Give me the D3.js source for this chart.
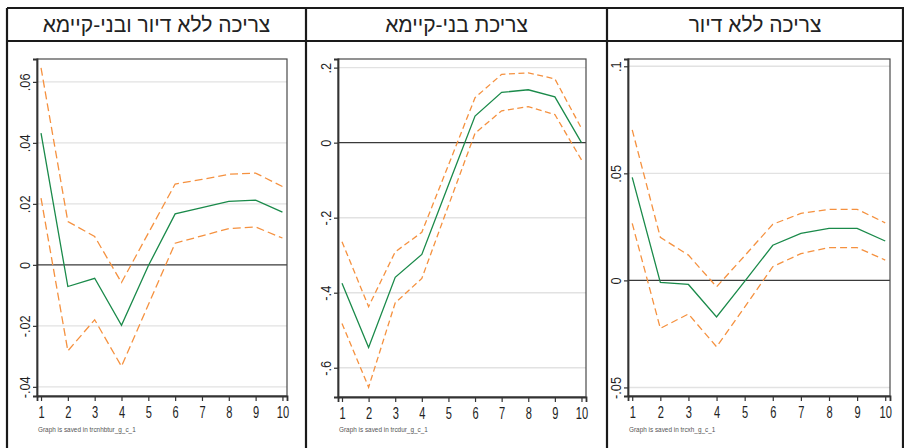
<!DOCTYPE html>
<html>
<head>
<meta charset="utf-8">
<script src="https://cdn.jsdelivr.net/npm/d3@7"></script>
<style>
  html, body { margin: 0; padding: 0; background: #fff; }
  svg { display: block; }
</style>
</head>
<body>
<svg id="chart" width="904" height="448"></svg>
<script>
// Impulse responses, horizons 1..10
const periods = [1, 2, 3, 4, 5, 6, 7, 8, 9, 10];

// Consumption excluding housing and durables
const coreIrf   = [0.0432, -0.0071, -0.0044, -0.0198, -0.0003, 0.0167, 0.0188, 0.0208, 0.0212, 0.0173];
const coreUpper = [0.0646, 0.0142, 0.0093, -0.0058, 0.0104, 0.0265, 0.0280, 0.0297, 0.0301, 0.0257];
const coreLower = [0.0219, -0.0282, -0.0180, -0.0333, -0.0131, 0.0071, 0.0095, 0.0119, 0.0124, 0.0088];
const coreTicks = [-0.04, -0.02, 0, 0.02, 0.04, 0.06];
const coreTickLabels = ["-.04", "-.02", "0", ".02", ".04", ".06"];

// Durables consumption
const durIrf   = [-0.375, -0.546, -0.359, -0.298, -0.113, 0.071, 0.134, 0.141, 0.122, 0.000];
const durUpper = [-0.264, -0.437, -0.291, -0.239, -0.060, 0.120, 0.182, 0.186, 0.170, 0.038];
const durLower = [-0.482, -0.652, -0.427, -0.362, -0.168, 0.025, 0.085, 0.096, 0.075, -0.046];
const durTicks = [-0.6, -0.4, -0.2, 0, 0.2];
const durTickLabels = ["-.6", "-.4", "-.2", "0", ".2"];

// Consumption excluding housing
const nhIrf   = [0.0481, -0.0009, -0.0019, -0.0171, -0.0005, 0.0164, 0.0220, 0.0243, 0.0243, 0.0184];
const nhUpper = [0.0703, 0.0201, 0.0118, -0.0030, 0.0115, 0.0262, 0.0313, 0.0332, 0.0332, 0.0269];
const nhLower = [0.0266, -0.0224, -0.0157, -0.0310, -0.0125, 0.0064, 0.0125, 0.0153, 0.0153, 0.0095];
const nhTicks = [-0.05, 0, 0.05, 0.1];
const nhTickLabels = ["-.05", "0", ".05", ".1"];

const titles = ["צריכה ללא דיור ובני-קיימא", "צריכת בני-קיימא", "צריכה ללא דיור"];
const notes = ["Graph is saved in trcnhbtur_g_c_1", "Graph is saved in trcdur_g_c_1", "Graph is saved in trcxh_g_c_1"];

const panels = [
  { title: titles[0], note: notes[0], irf: coreIrf, upper: coreUpper, lower: coreLower,
    ticks: coreTicks, tickLabels: coreTickLabels, yDomain: [-0.043, 0.0675],
    cell: [7, 306], box: [37, 59, 287, 396], dash: "8,4" },
  { title: titles[1], note: notes[1], irf: durIrf, upper: durUpper, lower: durLower,
    ticks: durTicks, tickLabels: durTickLabels, yDomain: [-0.678, 0.223],
    cell: [306, 607], box: [338, 59, 586, 397], dash: "6,3.5" },
  { title: titles[2], note: notes[2], irf: nhIrf, upper: nhUpper, lower: nhLower,
    ticks: nhTicks, tickLabels: nhTickLabels, yDomain: [-0.054, 0.1034],
    cell: [607, 903], box: [628, 59, 890, 396], dash: "7,4" }
];

const svg = d3.select("#chart");
const numFont = "'Liberation Sans Narrow', 'Liberation Sans', Arial, sans-serif";

// Table frame around the three panels
const frame = svg.append("g").attr("stroke", "#1a1a1a").attr("stroke-width", 2.2).attr("fill", "none");
frame.append("line").attr("x1", 7).attr("x2", 904).attr("y1", 8).attr("y2", 8);
frame.append("line").attr("x1", 7).attr("x2", 904).attr("y1", 41).attr("y2", 41);
[7, 306, 607, 903].forEach(x =>
  frame.append("line").attr("x1", x).attr("x2", x).attr("y1", 8).attr("y2", 448));

panels.forEach(p => {
  const [x0, y0, x1, y1] = p.box;
  const x = d3.scaleLinear().domain([0.85, 10.17]).range([x0, x1]);
  const y = d3.scaleLinear().domain(p.yDomain).range([y1, y0]);
  const g = svg.append("g");

  // panel title
  g.append("text")
    .attr("x", (p.cell[0] + p.cell[1]) / 2)
    .attr("y", 32)
    .attr("text-anchor", "middle")
    .attr("direction", "rtl")
    .attr("font-family", "'Liberation Sans', 'DejaVu Sans', sans-serif")
    .attr("font-size", 21)
    .attr("fill", "#222")
    .text(p.title);

  // horizontal gridlines
  g.append("g").selectAll("line").data(p.ticks.filter(t => t !== 0)).join("line")
    .attr("x1", x0).attr("x2", x1)
    .attr("y1", d => y(d)).attr("y2", d => y(d))
    .attr("stroke", "#e2e2e2").attr("stroke-width", 1.4);

  // zero reference line
  g.append("line")
    .attr("x1", x0).attr("x2", x1).attr("y1", y(0)).attr("y2", y(0))
    .attr("stroke", "#3a3a3a").attr("stroke-width", 1.3);

  // plot box
  g.append("rect")
    .attr("x", x0).attr("y", y0).attr("width", x1 - x0).attr("height", y1 - y0)
    .attr("fill", "none").attr("stroke", "#4a4a4a").attr("stroke-width", 1.2);

  // x axis with tall, condensed digits
  const xAxis = d3.axisBottom(x).tickValues(periods).tickSize(5).tickPadding(5).tickFormat(d3.format("d"));
  const xa = g.append("g").attr("transform", `translate(0,${y1})`).call(xAxis);
  xa.select(".domain").attr("stroke", "#333").attr("stroke-width", 1.8);
  xa.selectAll(".tick line").attr("stroke", "#333").attr("stroke-width", 1.2);
  xa.selectAll(".tick text")
    .attr("font-family", numFont).attr("font-size", 15).attr("fill", "#222")
    .attr("x", 0).attr("dy", "0.71em")
    .attr("transform", "scale(0.74,1.05)");

  // y axis with rotated labels
  const yAxis = d3.axisLeft(y).tickValues(p.ticks).tickSize(4).tickPadding(3)
    .tickFormat((d, i) => p.tickLabels[i]);
  const ya = g.append("g").attr("transform", `translate(${x0},0)`).call(yAxis);
  ya.select(".domain").attr("stroke", "#333").attr("stroke-width", 1.8);
  ya.selectAll(".tick line").attr("stroke", "#333").attr("stroke-width", 1.2);
  ya.selectAll(".tick text")
    .attr("font-family", numFont).attr("font-size", 15).attr("fill", "#222")
    .attr("text-anchor", "middle")
    .attr("x", null).attr("dy", null)
    .attr("transform", "translate(-7,0) rotate(-90) scale(0.85,1)");

  // confidence bands and response
  const line = d3.line().x((d, i) => x(periods[i])).y(d => y(d));
  [p.upper, p.lower].forEach(s =>
    g.append("path").datum(s).attr("d", line)
      .attr("fill", "none").attr("stroke", "#f5913f").attr("stroke-width", 1.3)
      .attr("stroke-dasharray", p.dash));
  g.append("path").datum(p.irf).attr("d", line)
    .attr("fill", "none").attr("stroke", "#1a8a4a").attr("stroke-width", 1.3);

  // file note under the axis
  g.append("text")
    .attr("x", x0 + 1).attr("y", 432)
    .attr("font-family", numFont).attr("font-size", 8).attr("fill", "#555")
    .attr("transform", `translate(${(x0 + 1) * 0.2},0) scale(0.8,1)`)
    .text(p.note);
});
</script>
</body>
</html>
